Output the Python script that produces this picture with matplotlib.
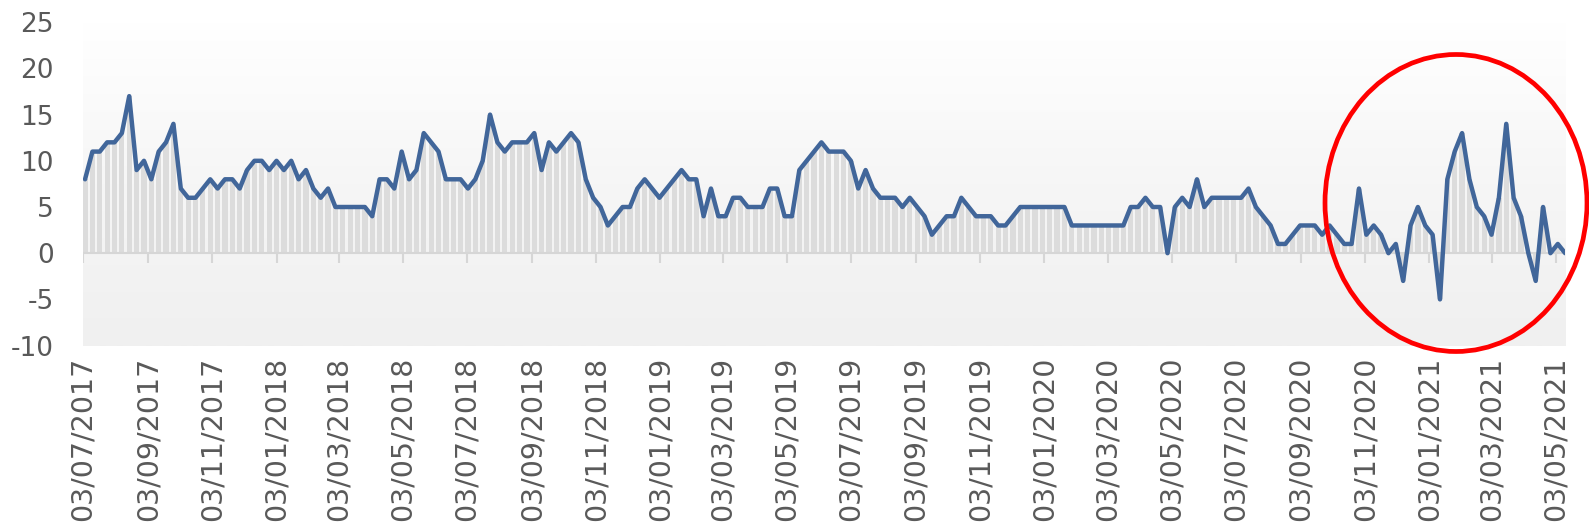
import numpy as np
import pandas as pd
import matplotlib
matplotlib.use('Agg')
import matplotlib.pyplot as plt
from matplotlib.patches import Ellipse
from matplotlib.colors import LinearSegmentedColormap

# weekly readings, one per week starting Monday 03/07/2017
start_date = '2017-07-03'
values = [
    8, 11, 11, 12, 12, 13, 17, 9, 10, 8,
    11, 12, 14, 7, 6, 6, 7, 8, 7, 8,
    8, 7, 9, 10, 10, 9, 10, 9, 10, 8,
    9, 7, 6, 7, 5, 5, 5, 5, 5, 4,
    8, 8, 7, 11, 8, 9, 13, 12, 11, 8,
    8, 8, 7, 8, 10, 15, 12, 11, 12, 12,
    12, 13, 9, 12, 11, 12, 13, 12, 8, 6,
    5, 3, 4, 5, 5, 7, 8, 7, 6, 7,
    8, 9, 8, 8, 4, 7, 4, 4, 6, 6,
    5, 5, 5, 7, 7, 4, 4, 9, 10, 11,
    12, 11, 11, 11, 10, 7, 9, 7, 6, 6,
    6, 5, 6, 5, 4, 2, 3, 4, 4, 6,
    5, 4, 4, 4, 3, 3, 4, 5, 5, 5,
    5, 5, 5, 5, 3, 3, 3, 3, 3, 3,
    3, 3, 5, 5, 6, 5, 5, 0, 5, 6,
    5, 8, 5, 6, 6, 6, 6, 6, 7, 5,
    4, 3, 1, 1, 2, 3, 3, 3, 2, 3,
    2, 1, 1, 7, 2, 3, 2, 0, 1, -3,
    3, 5, 3, 2, -5, 8, 11, 13, 8, 5,
    4, 2, 6, 14, 6, 4, 0, -3, 5, 0,
    1, 0,
]
tick_labels = ['03/07/2017', '03/09/2017', '03/11/2017', '03/01/2018', '03/03/2018',
               '03/05/2018', '03/07/2018', '03/09/2018', '03/11/2018', '03/01/2019',
               '03/03/2019', '03/05/2019', '03/07/2019', '03/09/2019', '03/11/2019',
               '03/01/2020', '03/03/2020', '03/05/2020', '03/07/2020', '03/09/2020',
               '03/11/2020', '03/01/2021', '03/03/2021', '03/05/2021']
y_ticks = [-10, -5, 0, 5, 10, 15, 20, 25]

mondays = pd.date_range(start_date, periods=len(values), freq='W-MON')
x = matplotlib.dates.date2num(mondays + pd.Timedelta(days=2))
tick_x = matplotlib.dates.date2num(pd.to_datetime(tick_labels, format='%d/%m/%Y'))

fig = plt.figure(figsize=(15.89, 5.30), dpi=100)
ax = fig.add_axes([0.0522, 0.348, 0.9328, 0.610])

x_left = matplotlib.dates.date2num(pd.Timestamp(start_date))
x_right = x[-1]
ax.set_xlim(x_left, x_right)
ax.set_ylim(-10, 25)

# plot area gradient
grad = LinearSegmentedColormap.from_list('bg', ['#f0f0f0', '#f6f6f6', '#ffffff'])
ax.imshow(np.linspace(1, 0, 256).reshape(-1, 1), cmap=grad, aspect='auto',
          extent=(x_left, x_right, -10, 25), zorder=0)

ax.bar(x, values, width=5, color='#dcdcdc', zorder=1)
ax.axhline(0, color='#d6d6d6', lw=1.5, zorder=2)
ax.vlines(tick_x, -1.1, 0, color='#d6d6d6', lw=1.5, zorder=2)
ax.plot(x, values, color='#41669a', lw=3.2, solid_joinstyle='round',
        solid_capstyle='round', zorder=3)

for s in ax.spines.values():
    s.set_visible(False)

ax.set_yticks(y_ticks)
ax.set_yticklabels([str(v) for v in y_ticks])
ax.set_xticks(tick_x)
ax.set_xticklabels(tick_labels, rotation=90, va='top', ha='center')
ax.tick_params(axis='x', length=0, pad=8, labelsize=20.5, labelcolor='#595959')
ax.tick_params(axis='y', length=0, pad=21, labelsize=19, labelcolor='#595959')

ring = Ellipse((1456 / 1589, 1 - 203 / 530), 262 / 1589, 297 / 530,
               transform=fig.transFigure, fill=False, edgecolor='#ff0000', lw=3.4)
fig.add_artist(ring)

fig.savefig('out.png', dpi=100)
